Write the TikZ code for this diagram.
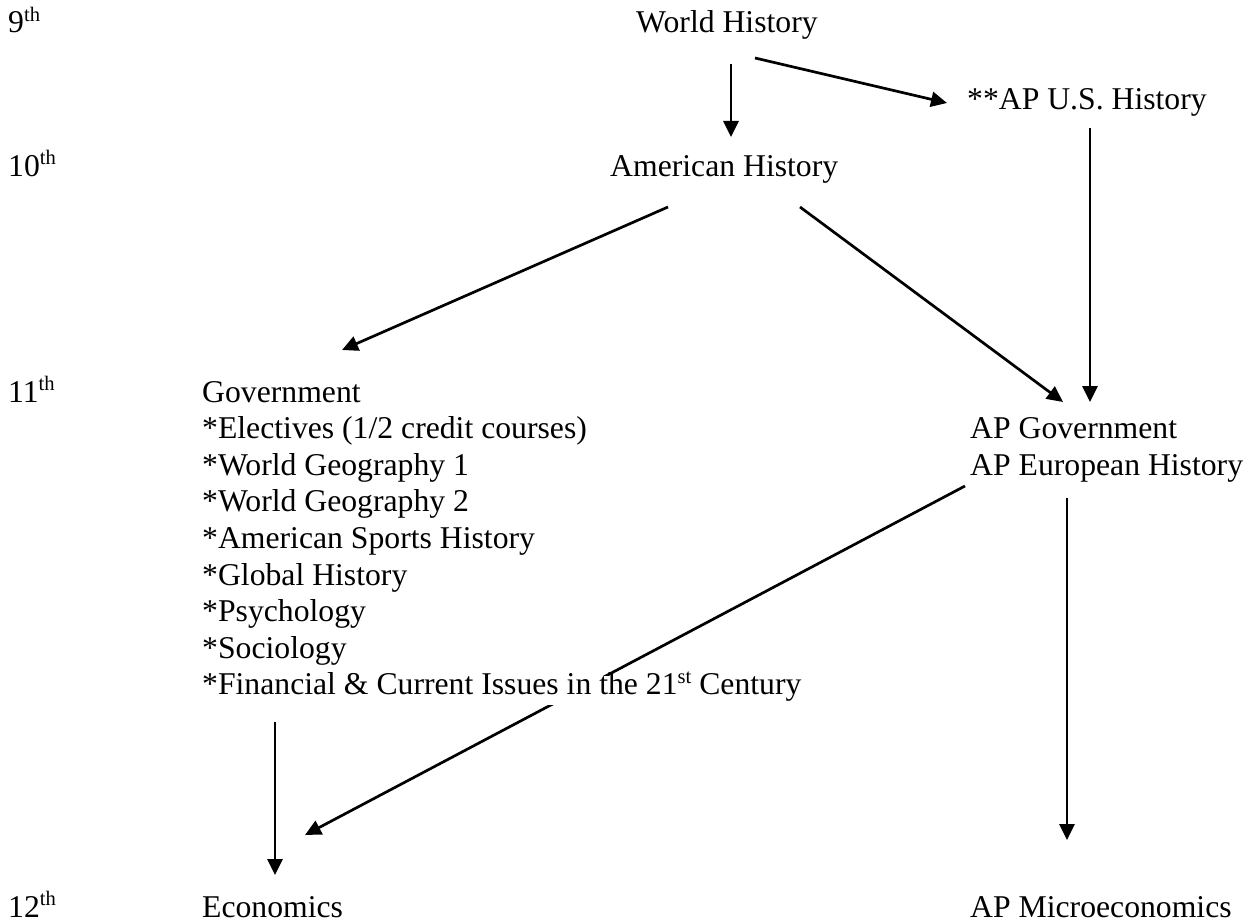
\documentclass[tikz,border=0pt]{standalone}
\usepackage{fontspec}
\setmainfont{Liberation Serif}
\usetikzlibrary{arrows.meta}
\newcommand\bodyfs{\fontsize{31.7}{36.6}\selectfont}
\newcommand\sups[1]{\raisebox{0.36em}{\fontsize{20.6}{21}\selectfont #1}}
\tikzset{
  lbl/.style={anchor=base west, inner sep=0pt, font=\bodyfs},
  conn/.style={line width=2.7pt, -{Triangle[length=16pt,width=15pt]}}
}
\begin{document}
\begin{tikzpicture}[x=1pt,y=-1pt]
\useasboundingbox (0,0) rectangle (1253,923);
% connector end points
\coordinate (wh1) at (731,64);
\coordinate (ah0) at (731,137);
\coordinate (wh2) at (755,58);
\coordinate (apus0) at (947,103);
\coordinate (ah1) at (668,207);
\coordinate (gov0) at (342,350);
\coordinate (ah2) at (800,207);
\coordinate (apg0) at (1063,402);
\coordinate (apus1) at (1090,128);
\coordinate (apg1) at (1090,402);
\coordinate (ape1) at (965,486);
\coordinate (eco0) at (305,835);
\coordinate (ape2) at (1067,498);
\coordinate (apm0) at (1067,840);
\coordinate (gov1) at (275,722);
\coordinate (eco1) at (275,875);
% line that passes behind the last elective line
\draw[conn] (ape1) -- (eco0);
% grade labels
\node[lbl] (g9) at (8,33) {9\sups{th}};
\node[lbl] (g10) at (8,176) {10\sups{th}};
\node[lbl] (g11) at (8,402) {11\sups{th}};
\node[lbl] (g12) at (8,917) {12\sups{th}};
% courses
\node[lbl] (wh) at (636,33) {World History};
\node[lbl] (apus) at (967,110) {**AP U.S. History};
\node[lbl] (ah) at (610,176) {American History};
\node[lbl] (gov) at (202,402) {Government};
\node[lbl] (el) at (202,438.6) {*Electives (1/2 credit courses)};
\node[lbl] (wg1) at (202,475.2) {*World Geography 1};
\node[lbl] (wg2) at (202,511.8) {*World Geography 2};
\node[lbl] (ash) at (202,548.4) {*American Sports History};
\node[lbl] (gh) at (202,585) {*Global History};
\node[lbl] (psy) at (202,621.6) {*Psychology};
\node[lbl] (soc) at (202,658.2) {*Sociology};
\node[lbl, fill=white, text height=19pt, text depth=10pt] (fin) at (202,694.8) {*Financial \& Current Issues in the 21\sups{st} Century};
\node[lbl] (apg) at (970,438.6) {AP Government};
\node[lbl] (ape) at (970,475.2) {AP European History};
\node[lbl] (eco) at (202,917) {Economics};
\node[lbl] (apm) at (970,917) {AP Microeconomics};
% connectors
\draw[conn] (wh1) -- (ah0);
\draw[conn] (wh2) -- (apus0);
\draw[conn] (ah1) -- (gov0);
\draw[conn] (ah2) -- (apg0);
\draw[conn] (apus1) -- (apg1);
\draw[conn] (ape2) -- (apm0);
\draw[conn] (gov1) -- (eco1);
\end{tikzpicture}
\end{document}
